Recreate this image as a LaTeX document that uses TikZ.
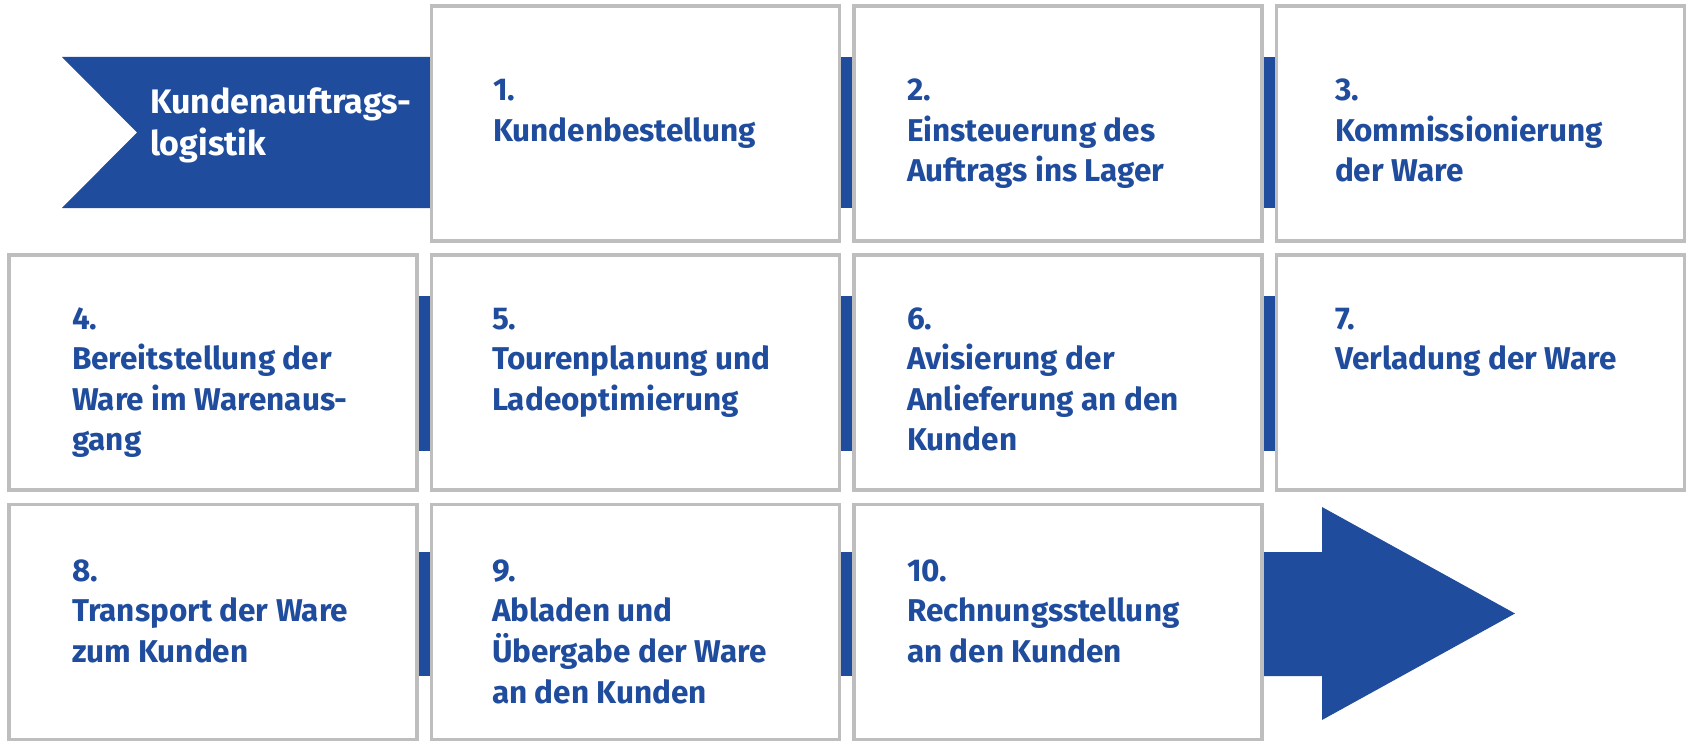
\documentclass[tikz,border=0pt]{standalone}
\usepackage{fontspec}
\setmainfont{Fira Sans}
\usetikzlibrary{backgrounds}
\definecolor{kblue}{HTML}{1F4C9C}
\definecolor{kgray}{HTML}{BEBEBE}
\begin{document}
\begin{tikzpicture}[x=1pt,y=-1pt,
  stepbox/.style={draw=kgray, line width=3.5pt, fill=white, minimum width=408pt,
    minimum height=235pt, inner sep=0pt, outer sep=0pt},
  steptext/.style={anchor=base west, inner sep=0pt, outer sep=0pt, text=kblue,
    font=\bfseries\fontsize{31.5}{40.5}\selectfont},
  bannertext/.style={anchor=base west, inner sep=0pt, outer sep=0pt, text=white,
    font=\bfseries\fontsize{34}{41.5}\selectfont},
  conn/.style={fill=kblue}]
\useasboundingbox (0,0) rectangle (1695,749);
% boxes
\node[stepbox] (b1) at (635.5,123.5) {};
\node[stepbox] (b2) at (1058,123.5) {};
\node[stepbox] (b3) at (1480.5,123.5) {};
\node[stepbox] (b4) at (213,372.5) {};
\node[stepbox] (b5) at (635.5,372.5) {};
\node[stepbox] (b6) at (1058,372.5) {};
\node[stepbox] (b7) at (1480.5,372.5) {};
\node[stepbox] (b8) at (213,622) {};
\node[stepbox] (b9) at (635.5,622) {};
\node[stepbox] (b10) at (1058,622) {};
% connectors, banner and final arrow behind the boxes
\begin{scope}[on background layer]
  \fill[conn] (62,57) -- (b1.west |- 0,57) -- (b1.west |- 0,208) -- (62,208) -- (137,132.5) -- cycle;
  \fill[conn] (b1.east |- 0,57) rectangle (b2.west |- 0,208);
  \fill[conn] (b2.east |- 0,57) rectangle (b3.west |- 0,208);
  \fill[conn] (b4.east |- 0,296) rectangle (b5.west |- 0,451);
  \fill[conn] (b5.east |- 0,296) rectangle (b6.west |- 0,451);
  \fill[conn] (b6.east |- 0,296) rectangle (b7.west |- 0,451);
  \fill[conn] (b8.east |- 0,552) rectangle (b9.west |- 0,676);
  \fill[conn] (b9.east |- 0,552) rectangle (b10.west |- 0,676);
  \fill[conn] (b10.east |- 0,552) -- (1322,552) -- (1322,507) -- (1515,613.5)
    -- (1322,720) -- (1322,676) -- (b10.east |- 0,676) -- cycle;
\end{scope}
% texts
\node[bannertext] (banner) at (150,114) {\begin{tabular}[t]{@{}l@{}}Kundenauftrags-\\logistik\end{tabular}};
\node[steptext] (t1) at (493,101) {\begin{tabular}[t]{@{}l@{}}1.\\Kundenbestellung\end{tabular}};
\node[steptext] (t2) at (907,101) {\begin{tabular}[t]{@{}l@{}}2.\\Einsteuerung des\\Auftrags ins Lager\end{tabular}};
\node[steptext] (t3) at (1335,101) {\begin{tabular}[t]{@{}l@{}}3.\\Kommissionierung\\der Ware\end{tabular}};
\node[steptext] (t4) at (72,329) {\begin{tabular}[t]{@{}l@{}}4.\\Bereitstellung der\\Ware im Warenaus-\\gang\end{tabular}};
\node[steptext] (t5) at (492,329) {\begin{tabular}[t]{@{}l@{}}5.\\Tourenplanung und\\Ladeoptimierung\end{tabular}};
\node[steptext] (t6) at (907,329) {\begin{tabular}[t]{@{}l@{}}6.\\Avisierung der\\Anlieferung an den\\Kunden\end{tabular}};
\node[steptext] (t7) at (1335,329) {\begin{tabular}[t]{@{}l@{}}7.\\Verladung der Ware\end{tabular}};
\node[steptext] (t8) at (72,581) {\begin{tabular}[t]{@{}l@{}}8.\\Transport der Ware\\zum Kunden\end{tabular}};
\node[steptext] (t9) at (492,581) {\begin{tabular}[t]{@{}l@{}}9.\\Abladen und\\Übergabe der Ware\\an den Kunden\end{tabular}};
\node[steptext] (t10) at (907,581) {\begin{tabular}[t]{@{}l@{}}10.\\Rechnungsstellung\\an den Kunden\end{tabular}};
\end{tikzpicture}
\end{document}
